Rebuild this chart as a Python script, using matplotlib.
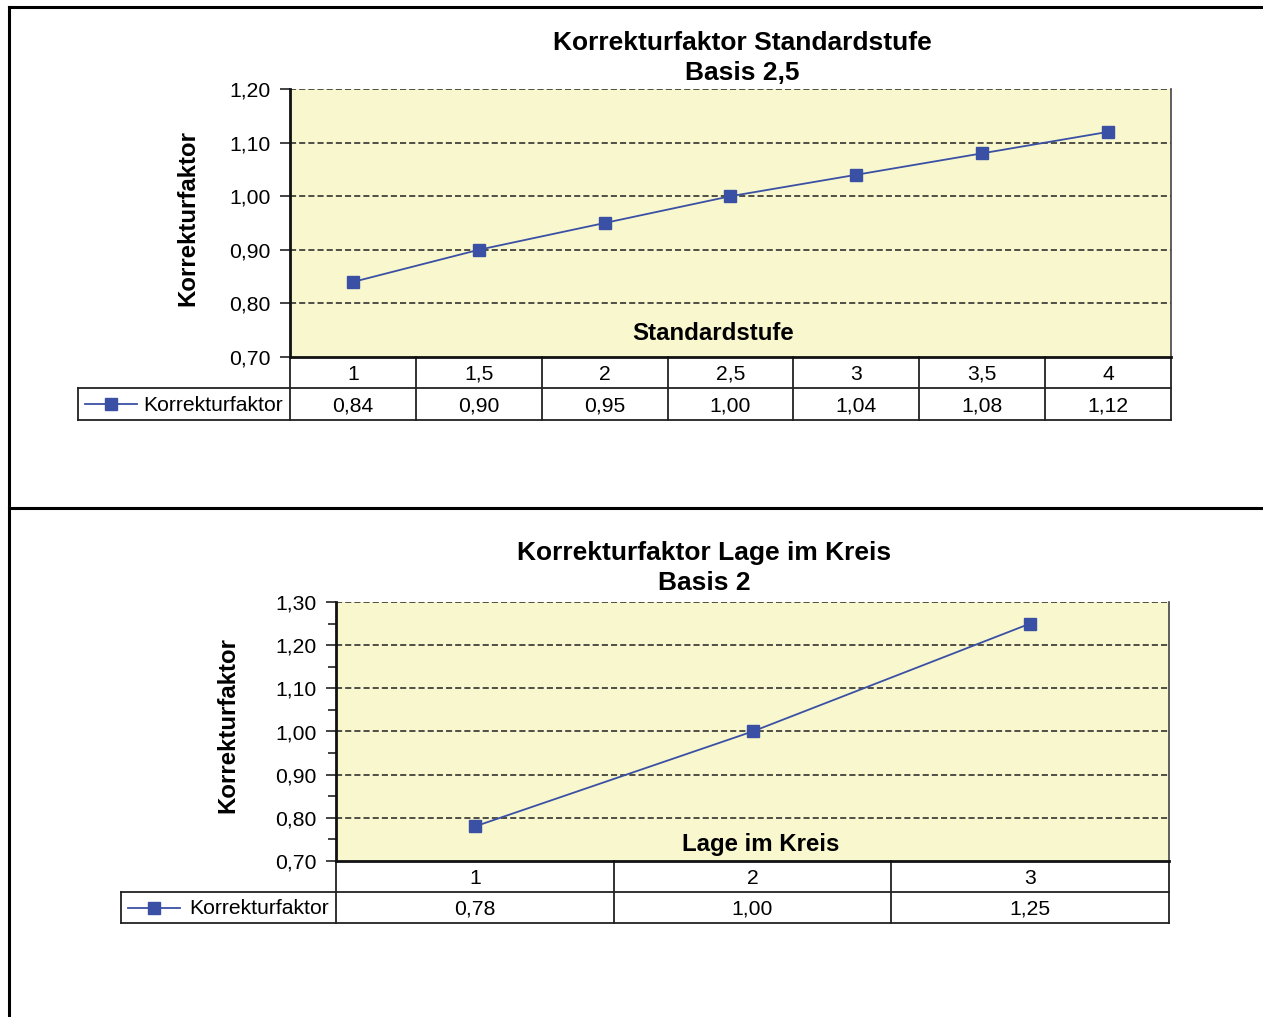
import matplotlib
matplotlib.use("Agg")
import matplotlib.pyplot as plt
from matplotlib.lines import Line2D
import matplotlib.transforms as mtransforms
from matplotlib.ticker import MultipleLocator, FixedLocator

plt.rcParams['font.family'] = ['Liberation Sans', 'DejaVu Sans']

# ---- data ----
stufe_categories = ["1", "1,5", "2", "2,5", "3", "3,5", "4"]
stufe_values = [0.84, 0.90, 0.95, 1.00, 1.04, 1.08, 1.12]
lage_categories = ["1", "2", "3"]
lage_values = [0.78, 1.00, 1.25]
series_name = "Korrekturfaktor"
y_label = "Korrekturfaktor"

W, H = 1263, 1017
fig = plt.figure(figsize=(W / 100, H / 100), dpi=100)
fig.patch.set_facecolor("white")

BG = "#F9F7CE"
BLUE = "#3A50A4"
TXT = 15.2


def px_axes(l, t, r, b):
    return fig.add_axes([l / W, (H - b) / H, (r - l) / W, (b - t) / H])


def fmt(v):
    return f"{v:.2f}".replace(".", ",")


def draw_chart(box, cats, vals, ylim, ystep, minor, title, xlabel, ylabel_pos,
               title_y, xlabel_pos, left_cell_px, row1_px, row2_px):
    l, t, r, b = box
    ax = px_axes(l, t, r, b)
    ax.set_facecolor(BG)
    n = len(cats)
    x = list(range(n))
    ax.set_xlim(-0.5, n - 0.5)
    ax.set_ylim(*ylim)
    ax.plot(x, vals, color=BLUE, lw=1.3, marker="s", markersize=8.5,
            markerfacecolor=BLUE, markeredgecolor=BLUE, zorder=5, clip_on=False)
    ticks = []
    v = ylim[0]
    while v <= ylim[1] + 1e-9:
        ticks.append(round(v, 2))
        v += ystep
    ax.yaxis.set_major_locator(FixedLocator(ticks))
    ax.set_yticklabels([fmt(tv) for tv in ticks], fontsize=TXT)
    if minor:
        ax.yaxis.set_minor_locator(MultipleLocator(ystep / 2))
        ax.tick_params(axis="y", which="minor", length=6, width=1.2, color="#222222")
    ax.tick_params(axis="y", which="major", length=7, width=1.2, color="#222222", pad=7)
    ax.set_xticks([])
    for tv in ticks[1:]:
        ax.axhline(tv, color="#222222", lw=1.1, ls=(0, (4, 2)), zorder=1)
    ax.spines["top"].set_visible(False)
    ax.spines["right"].set_color("#444444")
    ax.spines["right"].set_linewidth(1.2)
    ax.spines["left"].set_linewidth(2)
    ax.spines["left"].set_color("#111111")
    ax.spines["bottom"].set_linewidth(2)
    ax.spines["bottom"].set_color("#111111")

    ph = b - t
    pw = r - l
    fig.text(title[2] / W, 1 - title_y[0] / H, title[0], ha="center", va="center",
             fontsize=19, fontweight="bold")
    fig.text(title[2] / W, 1 - title_y[1] / H, title[1], ha="center", va="center",
             fontsize=19, fontweight="bold")
    fig.text(ylabel_pos[0] / W, 1 - ylabel_pos[1] / H, y_label, rotation=90,
             ha="center", va="center", fontsize=17.3, fontweight="bold")
    fig.text(xlabel_pos[0] / W, 1 - xlabel_pos[1] / H, xlabel, ha="center",
             va="center", fontsize=17.3, fontweight="bold", zorder=6)

    # data table
    trans = mtransforms.blended_transform_factory(ax.transData, ax.transAxes)
    y0 = 0.0
    y1 = -(row1_px - b) / ph
    y2 = -(row2_px - b) / ph
    xl = (left_cell_px - l) / pw
    lk = dict(color="#222222", lw=1.3, clip_on=False)
    ax.add_line(Line2D([xl, 1.0], [y1, y1], transform=ax.transAxes, **lk))
    ax.add_line(Line2D([xl, 1.0], [y2, y2], transform=ax.transAxes, **lk))
    ax.add_line(Line2D([xl, xl], [y1, y2], transform=ax.transAxes, **lk))
    for i in range(n + 1):
        ax.add_line(Line2D([i - 0.5, i - 0.5], [y0, y2], transform=trans, **lk))
    off = 1.5 / ph
    for i in range(n):
        ax.text(i, (y0 + y1) / 2 - off, cats[i], transform=trans, ha="center",
                va="center", fontsize=TXT)
        ax.text(i, (y1 + y2) / 2 - off, fmt(vals[i]), transform=trans, ha="center",
                va="center", fontsize=TXT)
    kx0 = xl + 7 / pw
    kx1 = xl + 59 / pw
    ym = (y1 + y2) / 2
    ax.add_line(Line2D([kx0, kx1], [ym, ym], transform=ax.transAxes, color=BLUE,
                       lw=1.3, clip_on=False))
    ax.add_line(Line2D([(kx0 + kx1) / 2], [ym], transform=ax.transAxes, color=BLUE,
                       marker="s", markersize=8.5, clip_on=False))
    ax.text(-7 / pw, ym - off, series_name, transform=ax.transAxes, ha="right",
            va="center", fontsize=TXT)
    return ax


draw_chart((290, 89, 1171, 357), stufe_categories, stufe_values, (0.70, 1.20), 0.10,
           False, ("Korrekturfaktor Standardstufe", "Basis 2,5", 742), "Standardstufe",
           (188, 218), (43, 73), (713, 334), 78, 388, 420)
draw_chart((336, 602, 1169, 861), lage_categories, lage_values, (0.70, 1.30), 0.10,
           True, ("Korrekturfaktor Lage im Kreis", "Basis 2", 704), "Lage im Kreis",
           (228, 725), (553, 583), (761, 845), 121, 892, 923)

frame = dict(color="black", lw=2.2, transform=fig.transFigure)
fig.add_artist(Line2D([9 / W, 9 / W], [0, 1 - 7 / H], **frame))
fig.add_artist(Line2D([9 / W, 1], [1 - 7 / H, 1 - 7 / H], **frame))
fig.add_artist(Line2D([9 / W, 1], [1 - 508 / H, 1 - 508 / H], **frame))

fig.savefig("out.png", dpi=100, facecolor="white")
